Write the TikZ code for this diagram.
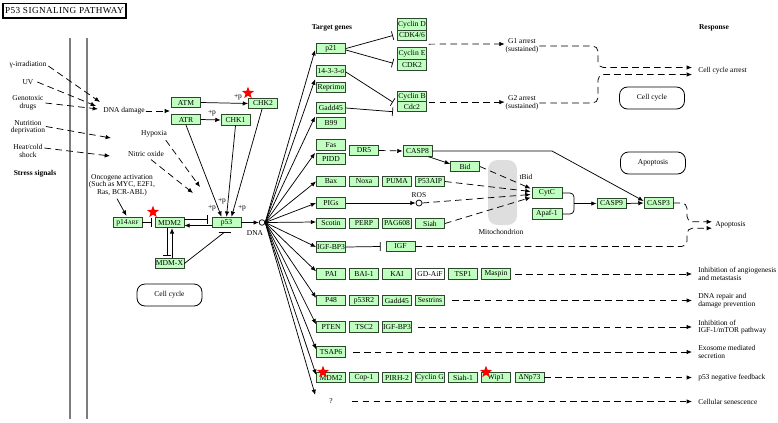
\documentclass[tikz,border=0pt]{standalone}
\usepackage{fontspec}
\setmainfont{Liberation Serif}
\usetikzlibrary{arrows.meta,calc,shapes.geometric}
\definecolor{gfill}{RGB}{191,255,191}
\definecolor{gdraw}{RGB}{45,70,45}
\definecolor{railgray}{RGB}{125,125,125}
\definecolor{mitogray}{RGB}{222,222,222}
\begin{document}
\begin{tikzpicture}[x=0.75pt,y=-0.75pt,
  gene/.style={draw=gdraw, fill=gfill, line width=0.6pt, minimum width=21.75pt, minimum height=7.9pt, inner sep=0pt, font=\fontsize{5.7}{6}\selectfont},
  wgene/.style={gene, fill=white},
  lbl/.style={font=\fontsize{5.6}{5.6}\selectfont, inner sep=0.5pt, align=center},
  rsp/.style={lbl, align=left, anchor=west, inner sep=0pt},
  hdr/.style={font=\bfseries\fontsize{5.6}{6}\selectfont, inner sep=0pt},
  link/.style={line width=0.55pt, draw=black},
  act/.style={link, -{Latex[length=4pt,width=3.3pt]}},
  inh/.style={link, -{Bar[width=6.5pt]}},
  dsh/.style={link, dash pattern=on 5pt off 3.2pt},
  dact/.style={dsh, -{Latex[length=4pt,width=3.3pt]}},
  roundbox/.style={draw, rounded corners=6pt, line width=0.6pt, minimum width=48.75pt, minimum height=16.5pt, font=\fontsize{5.6}{6}\selectfont},
  redstar/.style={star, star points=5, star point ratio=2.4, fill=red, draw=none, minimum size=9.5pt, inner sep=0pt}
]
\useasboundingbox (0,0) rectangle (778,422);
\fill[white] (0,0) rectangle (778,422);

% title
\node[draw, line width=1.1pt, minimum width=92.5pt, minimum height=11pt, inner sep=0pt, font=\fontsize{6.9}{7}\selectfont\addfontfeature{LetterSpace=4.5}] (title) at (64.5,10.7) {P53 SIGNALING PATHWAY};

% membrane rails
\draw[railgray, line width=2.2pt] (70,38) -- (70,419);
\draw[railgray, line width=2.2pt] (87,38) -- (87,419);

% mitochondrion
\fill[mitogray, rounded corners=7pt] (488,160) rectangle (517,225);
\node[lbl] (mito) at (501,232) {Mitochondrion};

% headers
\node[hdr] (hstress) at (35,174) {Stress signals};
\node[hdr] (htarget) at (332,28) {Target genes};
\node[hdr] (hresp) at (714,28) {Response};

% stress signals
\node[lbl] (gir) at (28,65) {γ-irradiation};
\node[lbl] (uv) at (28,82) {UV};
\node[lbl] (geno) at (28,103) {Genotoxic\\drugs};
\node[lbl] (nutr) at (28,127.5) {Nutrition\\deprivation};
\node[lbl] (heat) at (28,151) {Heat/cold\\shock};
\coordinate (e1) at (100,102);
\coordinate (e2) at (96,106);
\coordinate (e3) at (98,109);
\coordinate (e4) at (111,138);
\coordinate (e5) at (110,156);
\draw[dact] ($(gir.east)+(1,1)$) -- (e1);
\draw[dact] ($(uv.east)+(3,0)$) -- (e2);
\draw[dact] ($(geno.east)+(1,0)$) -- (e3);
\draw[dact] ($(nutr.east)+(0,-1)$) -- (e4);
\draw[dact] ($(heat.east)+(1,-3)$) -- (e5);

\node[lbl] (dnad) at (124,111) {DNA damage};
\coordinate (e6) at (170,111);
\draw[dact] (dnad.east) -- (e6);

% kinases
\node[gene] (atm) at (186,102.5) {ATM};
\node[gene] (atr) at (186,119.5) {ATR};
\node[gene] (chk1) at (235.5,120) {CHK1};
\node[gene] (chk2) at (263,103.5) {CHK2};
\draw[act] (atm.east) -- (chk2.west);
\draw[act] (atr.east) -- (chk1.west);
\node[lbl] (pp1) at (238,97) {+p};
\node[lbl] (pp2) at (212,113.5) {+p};

% hypoxia / nitric oxide
\node[lbl] (hyp) at (154,134) {Hypoxia};
\node[lbl] (nit) at (146,154) {Nitric oxide};
\coordinate (h1) at (200,187);
\coordinate (h2) at (193,193);
\draw[dact] ($(hyp.south east)+(-2,2)$) -- (h1);
\draw[dact] ($(nit.south)+(5,2)$) -- (h2);

% oncogene
\node[lbl] (onc) at (122,185) {Oncogene activation\\(Such as MYC, E2F1,\\Ras, BCR-ABL)};

% core p53 module
\node[gene] (p14) at (127.5,222.5) {p14{\fontsize{4.2}{5}\selectfont ARF}};
\node[gene] (mdm2) at (169.5,222.5) {MDM2};
\node[gene] (p53) at (226.5,222.5) {p53};
\node[gene] (mdmx) at (169.5,263.5) {MDM-X};
\node[roundbox] (cc1) at (169.5,295) {Cell cycle};
\node[circle, draw, fill=white, line width=0.55pt, inner sep=0pt, minimum size=4.2pt] (dna) at (262,222.5) {};
\node[lbl] (dnal) at (255,233) {DNA};

\draw[act] ($(onc.south)+(-5,2)$) -- ($(p14.north)+(-1,-1)$);
\draw[act] (atr.south) -- ($(p53.north)+(-5,0)$);
\draw[act] (chk1.south) -- ($(p53.north)+(0,0)$);
\draw[act] ($(chk2.south)+(-1,0)$) -- ($(p53.north)+(5,0)$);
\node[lbl] (pp3) at (212,208) {+p};
\node[lbl] (pp4) at (222,201) {+p};
\node[lbl] (pp5) at (242,208) {+p};

\draw[inh] (p14.east) -- ($(mdm2.west)+(-3,0)$);
\draw[inh] ($(mdm2.east)+(0,-3)$) -- ($(p53.west)+(-4,-3)$);
\draw[act] ($(p53.west)+(0,3)$) -- ($(mdm2.east)+(0,3)$);
\draw[inh] ($(mdm2.south)+(-2.5,0)$) -- ($(mdmx.north)+(-2.5,-2)$);
\draw[act] ($(mdmx.north)+(2.5,0)$) -- ($(mdm2.south)+(2.5,0)$);
\draw[link] (mdmx.east) -- ($(p53.south)+(-2,4)$) coordinate (xb);
\draw[link] ($(xb)+(-6,0)$) -- ($(xb)+(6,0)$);
\draw[act] (p53.east) -- (dna.west);

% target gene column
\node[gene] (p21) at (331,48.5) {p21};
\node[gene] (t1433) at (331,71) {14-3-3-σ};
\node[gene] (reprimo) at (331,87.5) {Reprimo};
\node[gene] (gadd45a) at (331,108) {Gadd45};
\node[gene] (b99) at (331,123) {B99};
\node[gene] (fas) at (331,144.7) {Fas};
\node[gene] (pidd) at (331,159) {PIDD};
\node[gene] (bax) at (331,181.5) {Bax};
\node[gene] (pigs) at (331,203) {PIGs};
\node[gene] (scotin) at (331,223.5) {Scotin};
\node[gene] (igfbp3) at (331,247) {IGF-BP3};
\node[gene] (pai) at (331,274) {PAI};
\node[gene] (p48) at (331,300.5) {P48};
\node[gene] (pten) at (331,327) {PTEN};
\node[gene] (tsap6) at (331,352) {TSAP6};
\node[gene] (mdm2b) at (331,377.5) {MDM2};
\node[lbl, minimum width=21.75pt, minimum height=7.9pt, inner sep=0pt] (q) at (331,401.5) {?};

% fan from DNA
\draw[act] (dna.east) -- ($(p21.west)+(-1,1.5)$);
\draw[act] (dna.east) -- ($(t1433.south west)!0.5!(reprimo.north west)+(-1,0)$);
\draw[act] (dna.east) -- ($(gadd45a.south west)!0.5!(b99.north west)+(-1,1)$);
\draw[act] (dna.east) -- ($(fas.south west)!0.5!(pidd.north west)+(-1,1)$);
\draw[act] (dna.east) -- (bax.west);
\draw[act] (dna.east) -- (pigs.west);
\draw[act] (dna.east) -- ($(scotin.west)+(0,-1.5)$);
\draw[act] (dna.east) -- (igfbp3.west);
\draw[act] (dna.east) -- ($(pai.north west)+(0,3)$);
\draw[act] (dna.east) -- ($(p48.north west)+(0,3)$);
\draw[act] (dna.east) -- ($(pten.north west)+(0,3)$);
\draw[act] (dna.east) -- ($(tsap6.north west)+(0,3)$);
\draw[act] (dna.east) -- ($(mdm2b.north west)+(0,3)$);
\draw[act] (dna.east) -- ($(q.north west)+(-1,-1)$);

% cyclins
\node[gene, minimum width=22pt, minimum height=8.6pt] (cycd) at (412,24.3) {Cyclin D};
\node[gene, minimum width=22pt, minimum height=7.5pt] (cdk46) at (412,35.5) {CDK4/6};
\node[gene, minimum width=22pt, minimum height=8.6pt] (cyce) at (412,53.5) {Cyclin E};
\node[gene, minimum width=22pt, minimum height=8pt] (cdk2) at (412,64.7) {CDK2};
\node[gene, minimum width=22pt, minimum height=7.5pt] (cycb) at (412,96.7) {Cyclin B};
\node[gene, minimum width=22pt, minimum height=7.5pt] (cdc2) at (412,106.7) {Cdc2};
\draw[inh] (p21.east) -- ($(cdk46.west)+(-4,0)$);
\draw[inh] ($(p21.east)+(0,1.5)$) -- ($(cdk2.west)+(-4,-1.5)$);
\draw[inh] ($(t1433.east)+(0,1)$) -- ($(cdc2.west)+(-4,-4.5)$);
\draw[inh] (gadd45a.east) -- ($(cdc2.west)+(-4,5)$);

\node[lbl] (g1) at (522,46) {G1 arrest\\(sustained)};
\node[lbl] (g2) at (522,103) {G2 arrest\\(sustained)};
\draw[dact] ($(cdk46.south east)!0.5!(cyce.north east)+(1.5,0)$) -- (g1.west |- 0,44);
\draw[dact] ($(cycb.south east)+(1.5,0)$) -- (g2.west |- cycb.south east);

\node[rsp] (rcca) at (698,71) {Cell cycle arrest};
\coordinate (cx) at (598,0);
\draw[dact, rounded corners=4pt] (g1.east) -- (g1.east -| cx) |- ($(rcca.west)+(-6,-3.5)$);
\draw[dact, rounded corners=4pt] (g2.east) -- (g2.east -| cx) |- ($(rcca.west)+(-6,3.5)$);
\node[roundbox] (cc2) at (652,98) {Cell cycle};
\node[roundbox] (apo1) at (653,163) {Apoptosis};

% apoptosis branch
\node[gene] (dr5) at (364,150.5) {DR5};
\node[gene] (casp8) at (417.5,151) {CASP8};
\node[gene] (bid) at (465,166.5) {Bid};
\node[gene] (noxa) at (364,181.5) {Noxa};
\node[gene] (puma) at (397,181.5) {PUMA};
\node[gene] (p53aip) at (430,181.5) {P53AIP};
\node[circle, draw, fill=white, line width=0.55pt, inner sep=0pt, minimum size=4.5pt] (ros) at (419,203) {};
\node[lbl] (rosl) at (419,195) {ROS};
\node[gene] (perp) at (364,223.5) {PERP};
\node[gene] (pag608) at (397,223.5) {PAG608};
\node[gene] (siah) at (430,223.5) {Siah};
\node[gene] (igf) at (400.5,246.5) {IGF};
\node[gene, minimum width=22.5pt] (cytc) at (547,193) {CytC};
\node[gene, minimum width=22.5pt] (apaf) at (547,214) {Apaf-1};
\node[gene] (casp9) at (611.5,203.5) {CASP9};
\node[gene] (casp3) at (658.5,203) {CASP3};
\node[lbl] (tbid) at (526,177) {tBid};

\draw[dact] (dr5.east) -- (casp8.west);
\draw[act] ($(casp8.south east)+(-4,0)$) -- ($(bid.north west)+(0,3)$);
\coordinate (cx2) at (552,0);
\draw[act] (casp8.east) -- (casp8.east -| cx2) -- ($(casp3.west)+(0,-2)$);
\draw[dact] (bid.east) -- ($(cytc.west)+(-1,-4.5)$);
\draw[dact] (p53aip.east) -- ($(cytc.west)+(-1,-1.5)$);
\draw[act] (pigs.east) -- (ros.west);
\draw[dact] (ros.east) -- ($(cytc.west)+(-1,1.5)$);
\draw[dact] (siah.east) -- ($(cytc.west)+(-1,4.5)$);
\coordinate (mx) at (574,203.5);
\draw[link, rounded corners=3pt] (cytc.east) -| (mx);
\draw[link, rounded corners=3pt] (apaf.east) -| (mx);
\draw[act] (mx) -- (casp9.west);
\draw[act] (casp9.east) -- (casp3.west);
\draw[inh] (igfbp3.east) -- ($(igf.west)+(-5,0)$);

\node[rsp] (rapo) at (715,225) {Apoptosis};
\coordinate (ax) at (687,0);
\draw[dact, rounded corners=4pt] (casp3.east) -- (casp3.east -| ax) |- ($(rapo.west)+(-3,-3.2)$);
\draw[dact, rounded corners=4pt] (igf.east) -- (igf.east -| ax) |- ($(rapo.west)+(-3,3.2)$);

% lower rows
\node[gene] (bai1) at (364,274) {BAI-1};
\node[gene] (kai) at (397,274) {KAI};
\node[wgene] (gdaif) at (430,274) {GD-AiF};
\node[gene] (tsp1) at (463,274) {TSP1};
\node[gene] (maspin) at (496,274) {Maspin};
\node[gene] (p53r2) at (364,300.5) {p53R2};
\node[gene] (gadd45b) at (397,300.5) {Gadd45};
\node[gene] (sestrins) at (430,300.5) {Sestrins};
\node[gene] (tsc2) at (364,327) {TSC2};
\node[gene] (igfbp3b) at (397,327) {IGF-BP3};
\node[gene] (cop1) at (364,377.5) {Cop-1};
\node[gene] (pirh2) at (397,377.5) {PIRH-2};
\node[gene] (cycg) at (430,377.5) {Cyclin G};
\node[gene] (siah1) at (463,377.5) {Siah-1};
\node[gene] (wip1) at (496,377.5) {Wip1};
\node[gene] (dnp73) at (529.5,377.5) {ΔNp73};

\node[rsp] (rang) at (698,274) {Inhibition of angiogenesis\\and metastasis};
\node[rsp] (rdna) at (698,300.5) {DNA repair and\\damage prevention};
\node[rsp] (rigf) at (698,327) {Inhibition of\\IGF-1/mTOR pathway};
\node[rsp] (rexo) at (698,352) {Exosome mediated\\secretion};
\node[rsp] (rneg) at (698,377.5) {p53 negative feedback};
\node[rsp] (rsen) at (698,401.5) {Cellular senescence};

\draw[dact] ($(maspin.east)+(4,0)$) -- ($(rang.west)+(-6,0)$);
\draw[dact] ($(sestrins.east)+(7,0)$) -- ($(rdna.west)+(-6,0)$);
\draw[dact] ($(igfbp3b.east)+(6,0)$) -- ($(rigf.west)+(-6,0)$);
\draw[dact] ($(tsap6.east)+(7,0)$) -- ($(rexo.west)+(-6,0)$);
\draw[dact] (dnp73.east) -- ($(rneg.west)+(-6,0)$);
\draw[dact] ($(q.east)+(6,0)$) -- ($(rsen.west)+(-6,0)$);

% stars
\node[redstar] (s1) at (248,93) {};
\node[redstar] (s2) at (153,212) {};
\node[redstar] (s3) at (323,372) {};
\node[redstar] (s4) at (486,372) {};
\end{tikzpicture}
\end{document}
